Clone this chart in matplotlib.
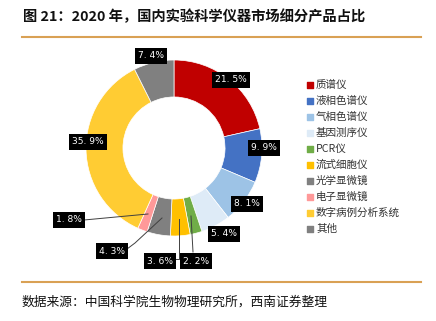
import matplotlib.pyplot as plt

plt.rcParams['font.family'] = ['Noto Sans CJK SC', 'DejaVu Sans']

# 细分产品及占比（%）
products = ['质谱仪', '液相色谱仪', '气相色谱仪', '基因测序仪', 'PCR仪',
            '流式细胞仪', '光学显微镜', '电子显微镜', '数字病例分析系统', '其他']
shares = [21.5, 9.9, 8.1, 5.4, 2.2, 3.6, 4.3, 1.8, 35.9, 7.4]
colors = ['#C00000', '#4472C4', '#9DC3E6', '#DEEBF7', '#70AD47',
          '#FFC000', '#808080', '#FF9999', '#FFCC33', '#808080']

W, H = 436, 321
fig = plt.figure(figsize=(W / 100, H / 100), dpi=100)
ax = fig.add_axes([0, 0, 1, 1])

# 像素坐标（y 向下）转成坐标轴坐标
def Y(y):
    return H - y

cx, cy, R = 174, 148, 88
wedges, _ = ax.pie(shares, colors=colors, startangle=90, counterclock=False,
                   radius=R, center=(cx, Y(cy)),
                   wedgeprops=dict(width=R * 0.42, edgecolor='white', linewidth=0.5))

# 数据标签位置（像素）
label_pos = [(231, 80), (264, 148), (247, 204), (224, 234), (196, 261),
             (160, 261), (112, 251), (69, 220), (88, 142), (151, 56)]
for v, (x, y) in zip(shares, label_pos):
    ax.text(x, Y(y), '{:.1f}%'.format(v).replace('.', '. '), color='white',
            fontsize=6.6, family='DejaVu Sans', ha='center', va='center',
            bbox=dict(facecolor='black', edgecolor='none', pad=2.2))

# 小扇区的引导线
leaders = [
    [(84, 220), (148, 214)],
    [(127, 249), (135, 243), (162, 218)],
    [(176, 259), (179, 259), (179, 219)],
    [(193, 252), (191, 216)],
]
for pts in leaders:
    xs = [p[0] for p in pts]
    ys = [Y(p[1]) for p in pts]
    ax.plot(xs, ys, color='#404040', lw=0.7)

# 图例
for i, (name, c) in enumerate(zip(products, colors)):
    y = 85 + i * 16
    ax.scatter(310, Y(y), marker='s', s=14, color=c)
    ax.text(316, Y(y), name, fontsize=7.6, va='center', ha='left', color='#333333')

# 标题、分隔线、数据来源
ax.text(23, Y(17), '图 21：2020 年，国内实验科学仪器市场细分产品占比',
        fontsize=10.3, fontweight='bold', va='center', ha='left', color='#111111')
ax.plot([22, 421], [Y(37), Y(37)], color='#D9A154', lw=1.5)
ax.plot([22, 421], [Y(282), Y(282)], color='#D9A154', lw=1.5)
ax.text(22, Y(302), '数据来源：中国科学院生物物理研究所，西南证券整理',
        fontsize=9.2, va='center', ha='left', color='#111111')

ax.set_xlim(0, W)
ax.set_ylim(0, H)
ax.set_aspect('equal')
ax.axis('off')

fig.savefig('out.png', dpi=100)
